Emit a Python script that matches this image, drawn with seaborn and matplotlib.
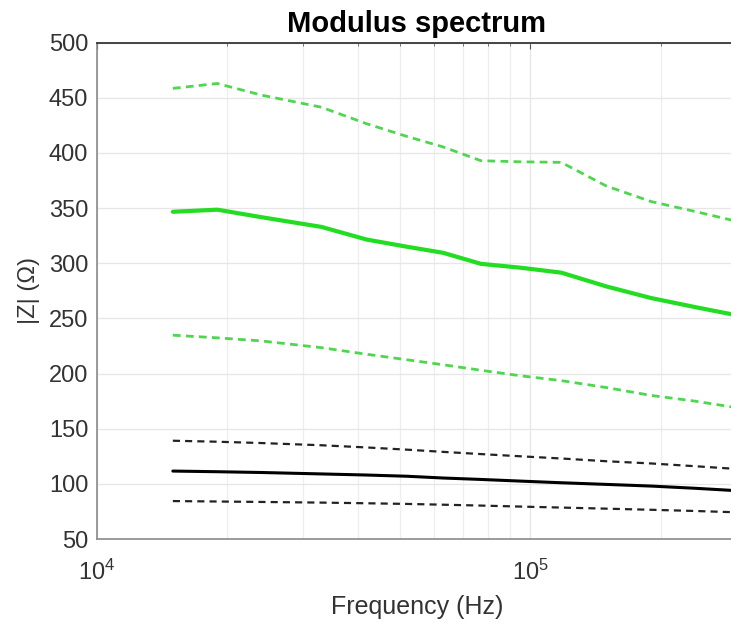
import numpy as np
import pandas as pd
import matplotlib
matplotlib.use("Agg")
import matplotlib.pyplot as plt
import seaborn as sns
from matplotlib.ticker import LogLocator, FixedLocator

# ---- data ----
freq = [15000, 19000, 24000, 33000, 42000, 52000, 63000, 77000,
        95000, 118000, 150000, 190000, 240000, 300000]

green_mean  = [346.7, 348.6, 341.8, 333.0, 321.5, 315.0, 309.5, 299.5,
               296.0, 291.5, 279.0, 268.5, 260.3, 252.8]
green_upper = [458.6, 463.0, 452.5, 441.5, 426.5, 415.0, 405.5, 393.0,
               392.0, 391.5, 370.0, 356.0, 347.0, 338.0]
green_lower = [234.8, 232.4, 229.6, 223.5, 217.5, 212.5, 208.0, 203.0,
               198.0, 193.6, 187.3, 180.2, 175.0, 169.0]

black_mean  = [111.6, 111.0, 110.3, 109.0, 108.0, 106.9, 105.3, 104.0,
               102.5, 101.0, 99.5, 98.0, 96.0, 93.8]
black_upper = [139.1, 138.2, 137.0, 135.0, 133.0, 131.0, 129.0, 127.0,
               125.0, 123.0, 120.5, 118.5, 116.0, 113.5]
black_lower = [84.4, 84.0, 83.6, 83.0, 82.4, 81.8, 81.1, 80.3,
               79.4, 78.5, 77.5, 76.5, 75.4, 74.2]

y_ticks = [50, 100, 150, 200, 250, 300, 350, 400, 450, 500]

df = pd.DataFrame({
    "freq": freq,
    "green_mean": green_mean, "green_upper": green_upper, "green_lower": green_lower,
    "black_mean": black_mean, "black_upper": black_upper, "black_lower": black_lower,
})

sns.set_style("white")
plt.rcParams["font.family"] = ["Liberation Sans", "DejaVu Sans"]
plt.rcParams["mathtext.default"] = "regular"

GREEN = "#22dd22"
TXT = "#333333"

fig = plt.figure(figsize=(7.31, 6.24), dpi=100)
# axes run a little past the right edge, like the cropped original
ax = fig.add_axes([96.5 / 731, 85 / 624, 640.5 / 731, 496.3 / 624])

# dashed confidence bands
sns.lineplot(data=df, x="freq", y="green_upper", ax=ax, color="#4fd64f",
             lw=2.0, dashes=False, linestyle=(0, (2.8, 1.9)))
sns.lineplot(data=df, x="freq", y="green_lower", ax=ax, color="#4fd64f",
             lw=2.0, dashes=False, linestyle=(0, (2.8, 1.9)))
sns.lineplot(data=df, x="freq", y="black_upper", ax=ax, color="#222222",
             lw=1.6, dashes=False, linestyle=(0, (3.2, 2.3)))
sns.lineplot(data=df, x="freq", y="black_lower", ax=ax, color="#222222",
             lw=1.6, dashes=False, linestyle=(0, (3.2, 2.3)))
# mean curves
sns.lineplot(data=df, x="freq", y="green_mean", ax=ax, color=GREEN, lw=3.0)
sns.lineplot(data=df, x="freq", y="black_mean", ax=ax, color="black", lw=2.2)

ax.set_xscale("log")
ax.set_xlim(1e4, 3e5)
ax.set_ylim(50, 500)
ax.yaxis.set_major_locator(FixedLocator(y_ticks))
ax.xaxis.set_major_locator(LogLocator(base=10))
ax.xaxis.set_minor_locator(LogLocator(base=10, subs=np.arange(2, 10)))

ax.set_axisbelow(True)
ax.grid(True, which="major", axis="both", color="#e6e6e6", lw=0.9)
ax.grid(True, which="minor", axis="x", color="#eeeeee", lw=0.9)

for side in ["left", "bottom"]:
    ax.spines[side].set_color("#8a8a8a")
    ax.spines[side].set_linewidth(1.2)
ax.spines["top"].set_color("#262626")
ax.spines["top"].set_linewidth(1.2)
ax.spines["right"].set_visible(False)

ax.tick_params(axis="both", which="both", direction="in", top=True,
               colors="#555555", labelcolor=TXT, labelsize=17)
ax.tick_params(axis="x", which="major", length=4, pad=15)
ax.tick_params(axis="x", which="minor", length=2.5)
ax.tick_params(axis="y", which="major", length=3, pad=6)

ax.set_title("Modulus spectrum", fontsize=21, fontweight="bold", color="black", pad=8)
ax.set_xlabel("Frequency (Hz)", fontsize=18, color=TXT, labelpad=7)
ax.set_ylabel("|Z| (Ω)", fontsize=17, color=TXT, labelpad=6)

fig.savefig("out.png", dpi=100)
